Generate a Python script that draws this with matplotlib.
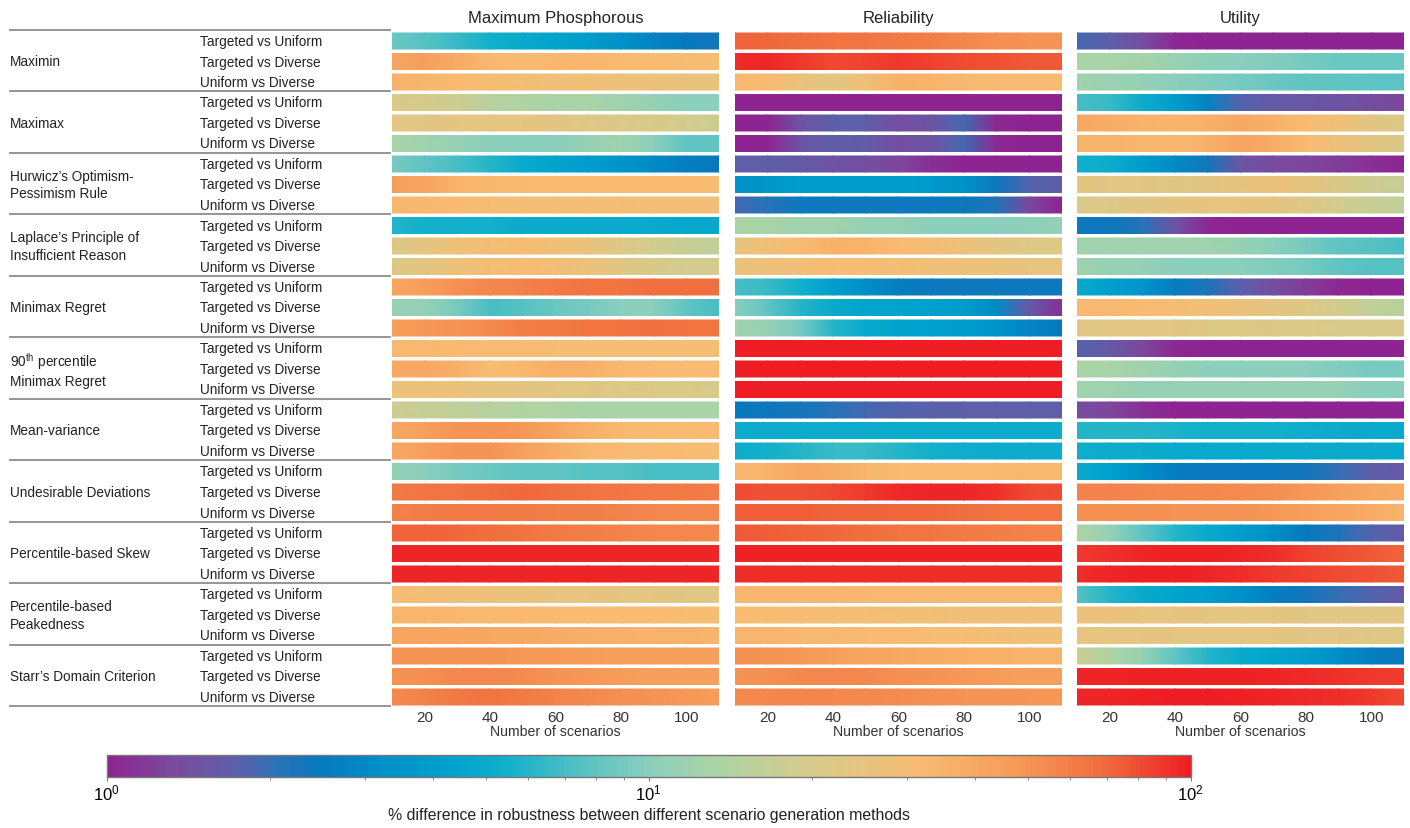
import numpy as np
import matplotlib
matplotlib.use("Agg")
import matplotlib.pyplot as plt
from matplotlib.colors import LinearSegmentedColormap, LogNorm
from matplotlib.cm import ScalarMappable

plt.rcParams['font.family'] = ['Liberation Sans', 'DejaVu Sans']
plt.rcParams['mathtext.fontset'] = 'custom'
plt.rcParams['mathtext.rm'] = 'Liberation Sans'
plt.rcParams['mathtext.it'] = 'Liberation Sans:italic'

# ---------------- data ----------------
scenarios = [10, 20, 30, 40, 50, 60, 70, 80, 90, 100, 110]
criteria = ["Maximin", "Maximax", "Hurwicz\u2019s Optimism-\nPessimism Rule",
            "Laplace\u2019s Principle of\nInsufficient Reason", "Minimax Regret",
            "90$^{\\mathrm{th}}$ percentile\nMinimax Regret", "Mean-variance",
            "Undesirable Deviations", "Percentile-based Skew",
            "Percentile-based\nPeakedness", "Starr\u2019s Domain Criterion"]
comparisons = ["Targeted vs Uniform", "Targeted vs Diverse", "Uniform vs Diverse"]
objectives = ["Maximum Phosphorous", "Reliability", "Utility"]

phosphorous = [
    [8.5, 7.5, 6.5, 5.5, 5, 4.5, 4, 3.3, 2.8, 2.5, 2.3],
    [42, 45, 38, 33, 32, 33, 34, 32, 32, 31, 31],
    [36, 34, 32, 30, 29, 28, 28, 27, 27, 26, 26],
    [21, 20, 18, 15, 14, 13, 13, 12, 11, 10, 10],
    [23, 23, 24, 24, 24, 23, 22, 21, 20, 19, 18],
    [13, 12, 11, 10, 10, 10, 11, 12, 10, 8, 8],
    [9, 8, 7, 6, 5, 4.5, 4, 3.5, 3, 2.6, 2.5],
    [45, 42, 35, 33, 32, 32, 32, 32, 32, 32, 31],
    [34, 33, 32, 31, 30, 30, 30, 30, 29, 29, 29],
    [6, 5.5, 5.5, 5.5, 5, 5, 5, 5, 5, 4.8, 4.8],
    [22, 24, 27, 29, 30, 28, 26, 22, 19, 17, 16],
    [22, 24, 27, 29, 30, 29, 26, 23, 20, 19, 19],
    [42, 45, 52, 56, 58, 62, 65, 66, 68, 68, 68],
    [11, 11, 9, 7, 7.5, 8.5, 9, 10, 10, 8, 7],
    [45, 48, 50, 55, 60, 62, 65, 66, 67, 66, 65],
    [33, 33, 32, 32, 32, 31, 31, 31, 31, 31, 30],
    [40, 40, 36, 31, 33, 37, 36, 33, 32, 32, 32],
    [27, 27, 26, 25, 24, 23, 23, 22, 21, 21, 20],
    [18, 17, 16, 15, 14, 14, 13, 13, 13, 13, 13],
    [40, 44, 50, 50, 48, 42, 36, 33, 32, 32, 32],
    [40, 44, 50, 50, 44, 38, 33, 32, 32, 31, 31],
    [11, 10, 9, 8.5, 8, 8, 7.5, 7.5, 7, 7, 7],
    [62, 64, 66, 68, 70, 68, 66, 64, 62, 62, 60],
    [58, 60, 62, 62, 62, 60, 60, 58, 56, 56, 55],
    [72, 72, 70, 68, 66, 62, 60, 58, 56, 56, 55],
    [95, 95, 95, 95, 95, 95, 95, 95, 95, 95, 95],
    [95, 95, 95, 95, 95, 95, 95, 95, 95, 95, 95],
    [30, 29, 28, 27, 26, 25, 25, 24, 24, 23, 23],
    [34, 34, 33, 33, 33, 32, 32, 32, 32, 31, 31],
    [42, 42, 41, 40, 40, 38, 37, 36, 35, 35, 34],
    [50, 50, 50, 50, 48, 47, 46, 45, 45, 45, 45],
    [50, 52, 56, 56, 54, 50, 48, 46, 45, 45, 44],
    [55, 58, 63, 66, 62, 58, 55, 52, 50, 48, 46],
]

reliability = [
    [72, 70, 68, 66, 64, 62, 60, 56, 52, 50, 50],
    [92, 95, 88, 82, 85, 88, 84, 80, 78, 76, 76],
    [33, 32, 26, 23, 28, 36, 35, 33, 32, 32, 32],
    [1, 1, 1, 1, 1, 1, 1, 1, 1, 1, 1],
    [1, 1, 1.5, 1.7, 1.7, 1.4, 1.5, 1.9, 1.05, 1, 1],
    [1, 1, 1.5, 1.7, 1.65, 1.4, 1.5, 1.9, 1.05, 1, 1],
    [1.7, 1.7, 1.6, 1.5, 1.4, 1.3, 1.1, 1.0, 1, 1, 1],
    [3.3, 3.6, 4, 4, 4, 4, 3.8, 3.3, 2.4, 1.8, 1.7],
    [1.9, 2.1, 2.4, 2.4, 2.4, 2.4, 2.4, 2.4, 2.2, 1.3, 1.0],
    [13, 13, 12, 12, 11, 11, 10, 10, 10, 10.5, 11],
    [25, 28, 32, 36, 35, 32, 30, 27, 24, 22, 22],
    [26, 27, 28, 30, 30, 29, 28, 27, 26, 25, 25],
    [7, 6.5, 5.5, 4.2, 3.2, 2.6, 2.4, 2.4, 2.4, 2.4, 2.4],
    [10, 8, 6, 5, 4.5, 4.5, 4.3, 4, 3, 1.6, 1.1],
    [12, 11, 9, 6, 5, 4.5, 4.3, 4, 3.5, 2.8, 2.5],
    [99, 99, 99, 99, 99, 99, 99, 99, 99, 99, 99],
    [99, 99, 99, 99, 99, 99, 99, 99, 99, 99, 99],
    [99, 99, 99, 99, 99, 99, 99, 99, 99, 99, 99],
    [2.5, 2.4, 2.3, 2.1, 1.9, 1.8, 1.75, 1.7, 1.7, 1.7, 1.7],
    [5.2, 5.2, 5.2, 5.2, 5.2, 5.2, 5.2, 5.2, 5.2, 5.2, 5.2],
    [5.2, 5.5, 6, 6.5, 6.5, 6, 5.5, 5.3, 5.2, 5.2, 5.2],
    [33, 35, 40, 38, 34, 32, 32, 32, 32, 33, 33],
    [80, 78, 78, 82, 88, 94, 96, 95, 90, 82, 80],
    [74, 74, 74, 72, 72, 70, 70, 68, 66, 65, 65],
    [75, 74, 72, 70, 68, 66, 64, 62, 60, 58, 58],
    [97, 97, 97, 97, 97, 97, 97, 97, 97, 97, 97],
    [92, 92, 92, 92, 92, 92, 92, 92, 92, 92, 92],
    [34, 34, 34, 34, 33, 33, 33, 33, 33, 33, 33],
    [32, 31, 30, 30, 30, 29, 29, 28, 28, 28, 28],
    [34, 34, 33, 33, 32, 32, 31, 30, 29, 28, 28],
    [52, 50, 48, 45, 42, 40, 38, 37, 36, 35, 35],
    [50, 52, 55, 56, 55, 52, 50, 48, 46, 45, 45],
    [55, 56, 57, 56, 55, 54, 52, 50, 50, 49, 48],
]

utility = [
    [1.9, 1.7, 1.4, 1.05, 1, 1, 1, 1, 1, 1, 1],
    [13, 13, 12.5, 11.5, 10.5, 10, 9.5, 9, 8.5, 8.5, 8.5],
    [12, 11.5, 11, 10, 9.5, 9, 8.5, 8, 8, 7.8, 7.8],
    [7, 6.5, 5.2, 4, 2.8, 1.8, 1.6, 1.55, 1.5, 1.4, 1.3],
    [40, 38, 35, 34, 36, 40, 36, 32, 28, 23, 21],
    [35, 35, 34, 33, 36, 42, 38, 32, 27, 23, 21],
    [5.5, 5.2, 4, 3, 2.3, 1.5, 1.35, 1.3, 1.2, 1.1, 1.0],
    [24, 23, 23, 22, 23, 25, 26, 25, 21, 18, 17],
    [21, 21, 23, 24, 25, 25, 24, 22, 19, 17, 16],
    [2.4, 2.4, 2.1, 1.5, 1.05, 1, 1, 1, 1, 1, 1],
    [12, 12, 12, 12, 12, 11, 10, 9, 8, 7.5, 7],
    [12, 11, 11, 10, 10, 10, 9.5, 9, 8, 7.5, 7.5],
    [5, 4.2, 3.5, 2.6, 2.2, 1.7, 1.4, 1.2, 1.05, 1, 1],
    [33, 33, 32, 30, 28, 26, 24, 22, 19, 16, 15],
    [23, 23, 23, 23, 22, 22, 21, 21, 20, 20, 20],
    [1.8, 1.6, 1.3, 1.05, 1, 1, 1, 1, 1, 1, 1],
    [13, 13, 12, 11, 10, 10, 10, 10, 9.5, 9, 9],
    [12, 12, 11, 11, 11, 11, 11, 11, 11, 10, 10],
    [1.4, 1.3, 1.1, 1, 1, 1, 1, 1, 1, 1, 1],
    [6, 6, 6, 5.8, 5.5, 5.5, 5.5, 5.3, 5.2, 5, 5],
    [5.3, 5.2, 5.2, 5, 5, 5, 5, 5, 5, 5, 5],
    [5, 4.3, 3.2, 2.6, 2.4, 2.4, 2.4, 2.3, 2, 1.7, 1.6],
    [58, 58, 56, 55, 55, 54, 52, 48, 44, 40, 38],
    [52, 52, 52, 50, 50, 50, 48, 45, 42, 38, 35],
    [14, 11, 8, 6, 5, 4, 3.2, 2.5, 2.2, 1.8, 1.6],
    [88, 90, 95, 98, 98, 95, 92, 85, 80, 75, 72],
    [92, 95, 98, 98, 96, 92, 88, 84, 80, 78, 76],
    [7.5, 6, 5, 4.5, 4, 3.3, 2.6, 2.3, 2, 1.8, 1.6],
    [26, 26, 25, 25, 24, 24, 24, 23, 23, 23, 23],
    [25, 25, 25, 24, 24, 24, 24, 23, 23, 22, 22],
    [18, 14, 11, 8, 6, 5, 4.5, 4, 3.2, 2.6, 2.4],
    [95, 96, 97, 98, 98, 98, 96, 94, 90, 88, 86],
    [95, 96, 98, 99, 99, 98, 96, 94, 92, 88, 82],
]

xticks = [20, 40, 60, 80, 100]

# ---------------- colormap ----------------
stops = [(0.00, "#8E2491"), (0.06, "#7B4A9E"), (0.12, "#5B60AA"), (0.155, "#2C72B7"),
         (0.195, "#0779BE"), (0.26, "#0092C9"), (0.32, "#00A2CD"), (0.37, "#12B0CB"),
         (0.43, "#4FC0C5"), (0.50, "#8ACFBE"), (0.56, "#AAD4A6"), (0.64, "#D3CC8E"),
         (0.75, "#F9BC72"), (0.84, "#F69A58"), (0.92, "#F06E3E"), (1.00, "#EE1D24")]
cmap = LinearSegmentedColormap.from_list("robust", stops)
norm = LogNorm(vmin=1, vmax=100)

W, H = 1410, 829
fig = plt.figure(figsize=(W / 100, H / 100), dpi=100)

ytop_px, ybot_px = 31.75, 708.25
ax_bottom = 1 - ybot_px / H
ax_height = (ybot_px - ytop_px) / H
nrows = len(comparisons) * len(criteria)

panel_px = [(392, 719), (735, 1062), (1077, 1404)]
datasets = [phosphorous, reliability, utility]
txtcol = "#333333"

for (x0, x1), data, title in zip(panel_px, datasets, objectives):
    ax = fig.add_axes([x0 / W, ax_bottom, (x1 - x0) / W, ax_height])
    X = np.array(scenarios, dtype=float)
    for i, vals in enumerate(data):
        Y = np.array([i + 0.11, i + 0.89])
        C = np.vstack([vals, vals]).astype(float)
        ax.pcolormesh(X, Y, C, cmap=cmap, norm=norm, shading='gouraud')
    ax.set_xlim(scenarios[0], scenarios[-1])
    ax.set_ylim(nrows, 0)
    ax.set_yticks([])
    ax.set_xticks(xticks)
    ax.tick_params(axis='x', length=0, pad=2, labelsize=11, labelcolor=txtcol)
    ax.set_xlabel("Number of scenarios", fontsize=10.2, color=txtcol, labelpad=0)
    for s in ax.spines.values():
        s.set_visible(False)
    fig.text((x0 + x1) / 2 / W, 1 - 18.5 / H, title, ha='center', va='center',
             fontsize=12, color="#222222")

# label axes
lax = fig.add_axes([0, ax_bottom, 392 / W, ax_height])
lax.set_xlim(0, 392)
lax.set_ylim(nrows, 0)
lax.axis('off')
for g, crit in enumerate(criteria):
    lax.text(10, 3 * g + 1.5, crit, ha='left', va='center', fontsize=9.8,
             color="#222222", linespacing=1.35)
    for k, comp in enumerate(comparisons):
        lax.text(200, 3 * g + k + 0.5, comp, ha='left', va='center', fontsize=9.8,
                 color="#222222")
for g in range(len(criteria) + 1):
    lax.plot([10, 390], [3 * g - 0.05, 3 * g - 0.05], color="#8c8c8c", lw=1.3,
             clip_on=False)

# colorbar
cax = fig.add_axes([106.7 / W, 1 - 778.3 / H, 1084 / W, 22.3 / H])
sm = ScalarMappable(norm=norm, cmap=cmap)
cb = fig.colorbar(sm, cax=cax, orientation='horizontal')
cb.outline.set_edgecolor("#777777")
cb.outline.set_linewidth(1.0)
cax.tick_params(which='major', length=3, color="#777777", labelsize=12, pad=1)
cax.tick_params(which='minor', length=2.5, color="#777777")
cb.set_label("% difference in robustness between different scenario generation methods",
             fontsize=11.4, color="#222222", labelpad=3)

fig.savefig("out.png", dpi=100)
